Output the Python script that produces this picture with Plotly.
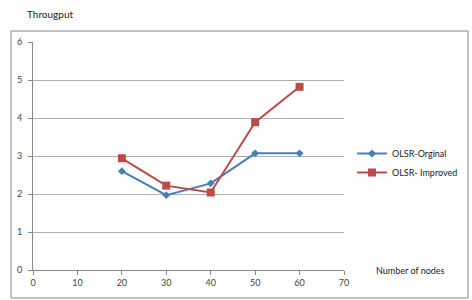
import plotly.graph_objects as go

nodes = [20, 30, 40, 50, 60]
olsr_original = [2.6, 1.97, 2.28, 3.07, 3.07]
olsr_improved = [2.94, 2.22, 2.04, 3.89, 4.82]
x_ticks = [0, 10, 20, 30, 40, 50, 60, 70]
y_ticks = [0, 1, 2, 3, 4, 5, 6]

FONT = "Lato, 'Open Sans', sans-serif"
L, R, T, B = 33, 128, 42, 30
W, H = 472, 300
pw, ph = W - L - R, H - T - B

def px(x):
    return (x - L) / pw

def py(y):
    return (H - B - y) / ph

fig = go.Figure()
fig.add_trace(go.Scatter(
    x=nodes, y=olsr_original, name="OLSR-Orginal", mode="lines+markers",
    line=dict(color="#4a7ebb", width=2),
    marker=dict(symbol="diamond", size=6, color="#4a7ebb"),
))
fig.add_trace(go.Scatter(
    x=nodes, y=olsr_improved, name="OLSR- Improved", mode="lines+markers",
    line=dict(color="#be4b48", width=2),
    marker=dict(symbol="square", size=8, color="#be4b48"),
))

fig.update_layout(
    width=W, height=H,
    margin=dict(l=L, r=R, t=T, b=B, autoexpand=False),
    paper_bgcolor="white", plot_bgcolor="white",
    font=dict(family=FONT, size=9, color="#333"),
    showlegend=True,
    legend=dict(xref="container", yref="container", x=352 / W, y=1 - 139 / H,
                xanchor="left", yanchor="top",
                font=dict(size=9, color="#222"), bgcolor="rgba(0,0,0,0)",
                tracegroupgap=2, itemwidth=30),
    xaxis=dict(range=[0, 70], tickvals=x_ticks, showgrid=False, zeroline=False,
               automargin=False,
               showline=True, linecolor="#888", linewidth=1,
               ticks="outside", ticklen=4, tickcolor="#888",
               tickfont=dict(size=9, color="#444")),
    yaxis=dict(range=[0, 6], tickvals=y_ticks, showgrid=True, gridcolor="#b0b0b0",
               gridwidth=1, zeroline=False, automargin=False,
               showline=True, linecolor="#888", linewidth=1,
               ticks="outside", ticklen=4, tickcolor="#888",
               ticklabelstandoff=4,
               tickfont=dict(size=9, color="#444")),
    shapes=[dict(type="rect", xref="paper", yref="paper",
                 x0=px(11), x1=px(468), y0=py(298), y1=py(31),
                 line=dict(color="#888", width=1), fillcolor="rgba(0,0,0,0)",
                 layer="below")],
    annotations=[
        dict(text="Througput", xref="paper", yref="paper", x=px(25), y=py(14),
             xanchor="left", yanchor="middle", showarrow=False,
             font=dict(size=10, color="#222")),
        dict(text="Number of nodes", xref="paper", yref="paper", x=px(374), y=py(270),
             xanchor="left", yanchor="middle", showarrow=False,
             font=dict(size=9, color="#222")),
    ],
)

fig.write_html("out.html", config={"displayModeBar": False},
               post_script="document.body.style.margin='0';document.body.style.overflow='hidden';")
